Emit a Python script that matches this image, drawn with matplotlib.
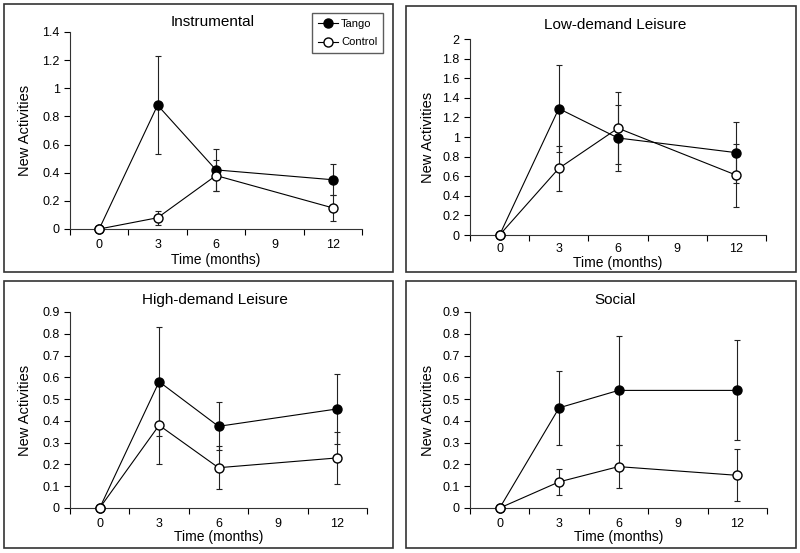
import numpy as np
import matplotlib.pyplot as plt
from matplotlib.patches import Rectangle

plt.rcParams['font.family'] = ['Liberation Sans', 'DejaVu Sans']

# categories on the x axis (9 months has no data)
months = ['0', '3', '6', '9', '12']
obs_idx = [0, 1, 2, 4]

titles = ['Instrumental', 'Low-demand Leisure', 'High-demand Leisure', 'Social']

tango_instr = [0, 0.88, 0.42, 0.35]
tango_instr_err = [0, 0.35, 0.15, 0.11]
ctrl_instr = [0, 0.08, 0.38, 0.15]
ctrl_instr_err = [0, 0.05, 0.11, 0.09]

tango_low = [0, 1.29, 0.99, 0.84]
tango_low_err = [0, 0.44, 0.34, 0.31]
ctrl_low = [0, 0.68, 1.09, 0.61]
ctrl_low_err = [0, 0.23, 0.37, 0.32]

tango_high = [0, 0.58, 0.375, 0.455]
tango_high_err = [0, 0.25, 0.11, 0.16]
ctrl_high = [0, 0.38, 0.185, 0.23]
ctrl_high_err = [0, 0.18, 0.10, 0.12]

tango_soc = [0, 0.46, 0.54, 0.54]
tango_soc_err = [0, 0.17, 0.25, 0.23]
ctrl_soc = [0, 0.12, 0.19, 0.15]
ctrl_soc_err = [0, 0.06, 0.10, 0.12]

ymax = [1.4, 2.0, 0.9, 0.9]
ystep = [0.2, 0.2, 0.1, 0.1]

series = [
    (tango_instr, tango_instr_err, ctrl_instr, ctrl_instr_err),
    (tango_low, tango_low_err, ctrl_low, ctrl_low_err),
    (tango_high, tango_high_err, ctrl_high, ctrl_high_err),
    (tango_soc, tango_soc_err, ctrl_soc, ctrl_soc_err),
]

W, H = 800, 553
fig = plt.figure(figsize=(8, 5.53), dpi=100)

# panel frames (pixels: left, top, right, bottom)
frames = [(4, 4, 393, 272), (406, 6, 796, 272), (4, 281, 393, 548), (406, 281, 796, 548)]
# axes boxes in pixels (left, top, right, bottom)
boxes = [(70, 32, 362, 229), (470, 39, 766, 235), (70, 312, 367, 508), (470, 312, 767, 508)]
title_y = [22, 25, 300, 300]
xlabel_y = [260, 263, 537, 537]
ylabel_x = [25, 428, 25, 428]
tick_pad = [7, 5.5, 7, 7]

def fx(px):
    return px / W

def fy(py):
    return 1 - py / H

for i in range(4):
    l, t, r, b = frames[i]
    fig.patches.append(Rectangle((fx(l), fy(b)), fx(r - l), (b - t) / H,
                                 transform=fig.transFigure, fill=False,
                                 edgecolor='#333333', linewidth=1.2))

    l, t, r, b = boxes[i]
    ax = fig.add_axes([fx(l), fy(b), fx(r - l), (b - t) / H])
    tg, tge, ct, cte = series[i]

    ax.errorbar(obs_idx, tg, yerr=tge, fmt='none', ecolor='#222222',
                elinewidth=0.8, capsize=2.2, capthick=0.8, zorder=2)
    ax.errorbar(obs_idx, ct, yerr=cte, fmt='none', ecolor='#222222',
                elinewidth=0.8, capsize=2.2, capthick=0.8, zorder=2)
    ax.plot(obs_idx, tg, '-o', color='black', markerfacecolor='black',
            markeredgecolor='black', markersize=6.5, linewidth=0.8,
            label='Tango', zorder=3, clip_on=False)
    ax.plot(obs_idx, ct, '-o', color='black', markerfacecolor='white',
            markeredgecolor='black', markersize=6.5, linewidth=0.8,
            label='Control', zorder=4, clip_on=False)

    ax.set_xlim(-0.5, 4.5)
    ax.set_ylim(0, ymax[i])
    ax.set_xticks(range(5))
    ax.set_xticklabels(months)
    ax.set_xticks(np.arange(-0.5, 5, 1), minor=True)
    ax.tick_params(axis='x', which='major', length=0, labelsize=9, pad=tick_pad[i])
    ax.tick_params(axis='x', which='minor', length=4, direction='out', width=0.8)
    yt = np.arange(0, ymax[i] + 1e-9, ystep[i])
    ax.set_yticks(yt)
    ax.set_yticklabels(['%g' % round(v, 1) for v in yt])
    ax.tick_params(axis='y', length=4, direction='out', width=0.8, labelsize=9)

    for s in ['top', 'right']:
        ax.spines[s].set_visible(False)
    for s in ['left', 'bottom']:
        ax.spines[s].set_linewidth(0.8)
        ax.spines[s].set_color('#333333')

    cx = fx((l + r) / 2)
    fig.text(cx - 0.004, fy(title_y[i]), titles[i],
             ha='center', va='center', fontsize=11)
    fig.text(cx, fy(xlabel_y[i]), 'Time (months)', ha='center', va='center', fontsize=10)
    fig.text(fx(ylabel_x[i]), fy((t + b) / 2), 'New Activities', ha='center',
             va='center', rotation=90, fontsize=10.5)

    if i == 0:
        leg = ax.legend(loc='upper left', bbox_to_anchor=(fx(312), fy(13)),
                        bbox_transform=fig.transFigure, fontsize=8,
                        frameon=True, fancybox=False, handlelength=1.8,
                        handletextpad=0.3, borderpad=0.5, labelspacing=0.8,
                        borderaxespad=0)
        leg.get_frame().set_edgecolor('#333333')
        leg.get_frame().set_linewidth(1.0)

fig.savefig('out.png', dpi=100)
